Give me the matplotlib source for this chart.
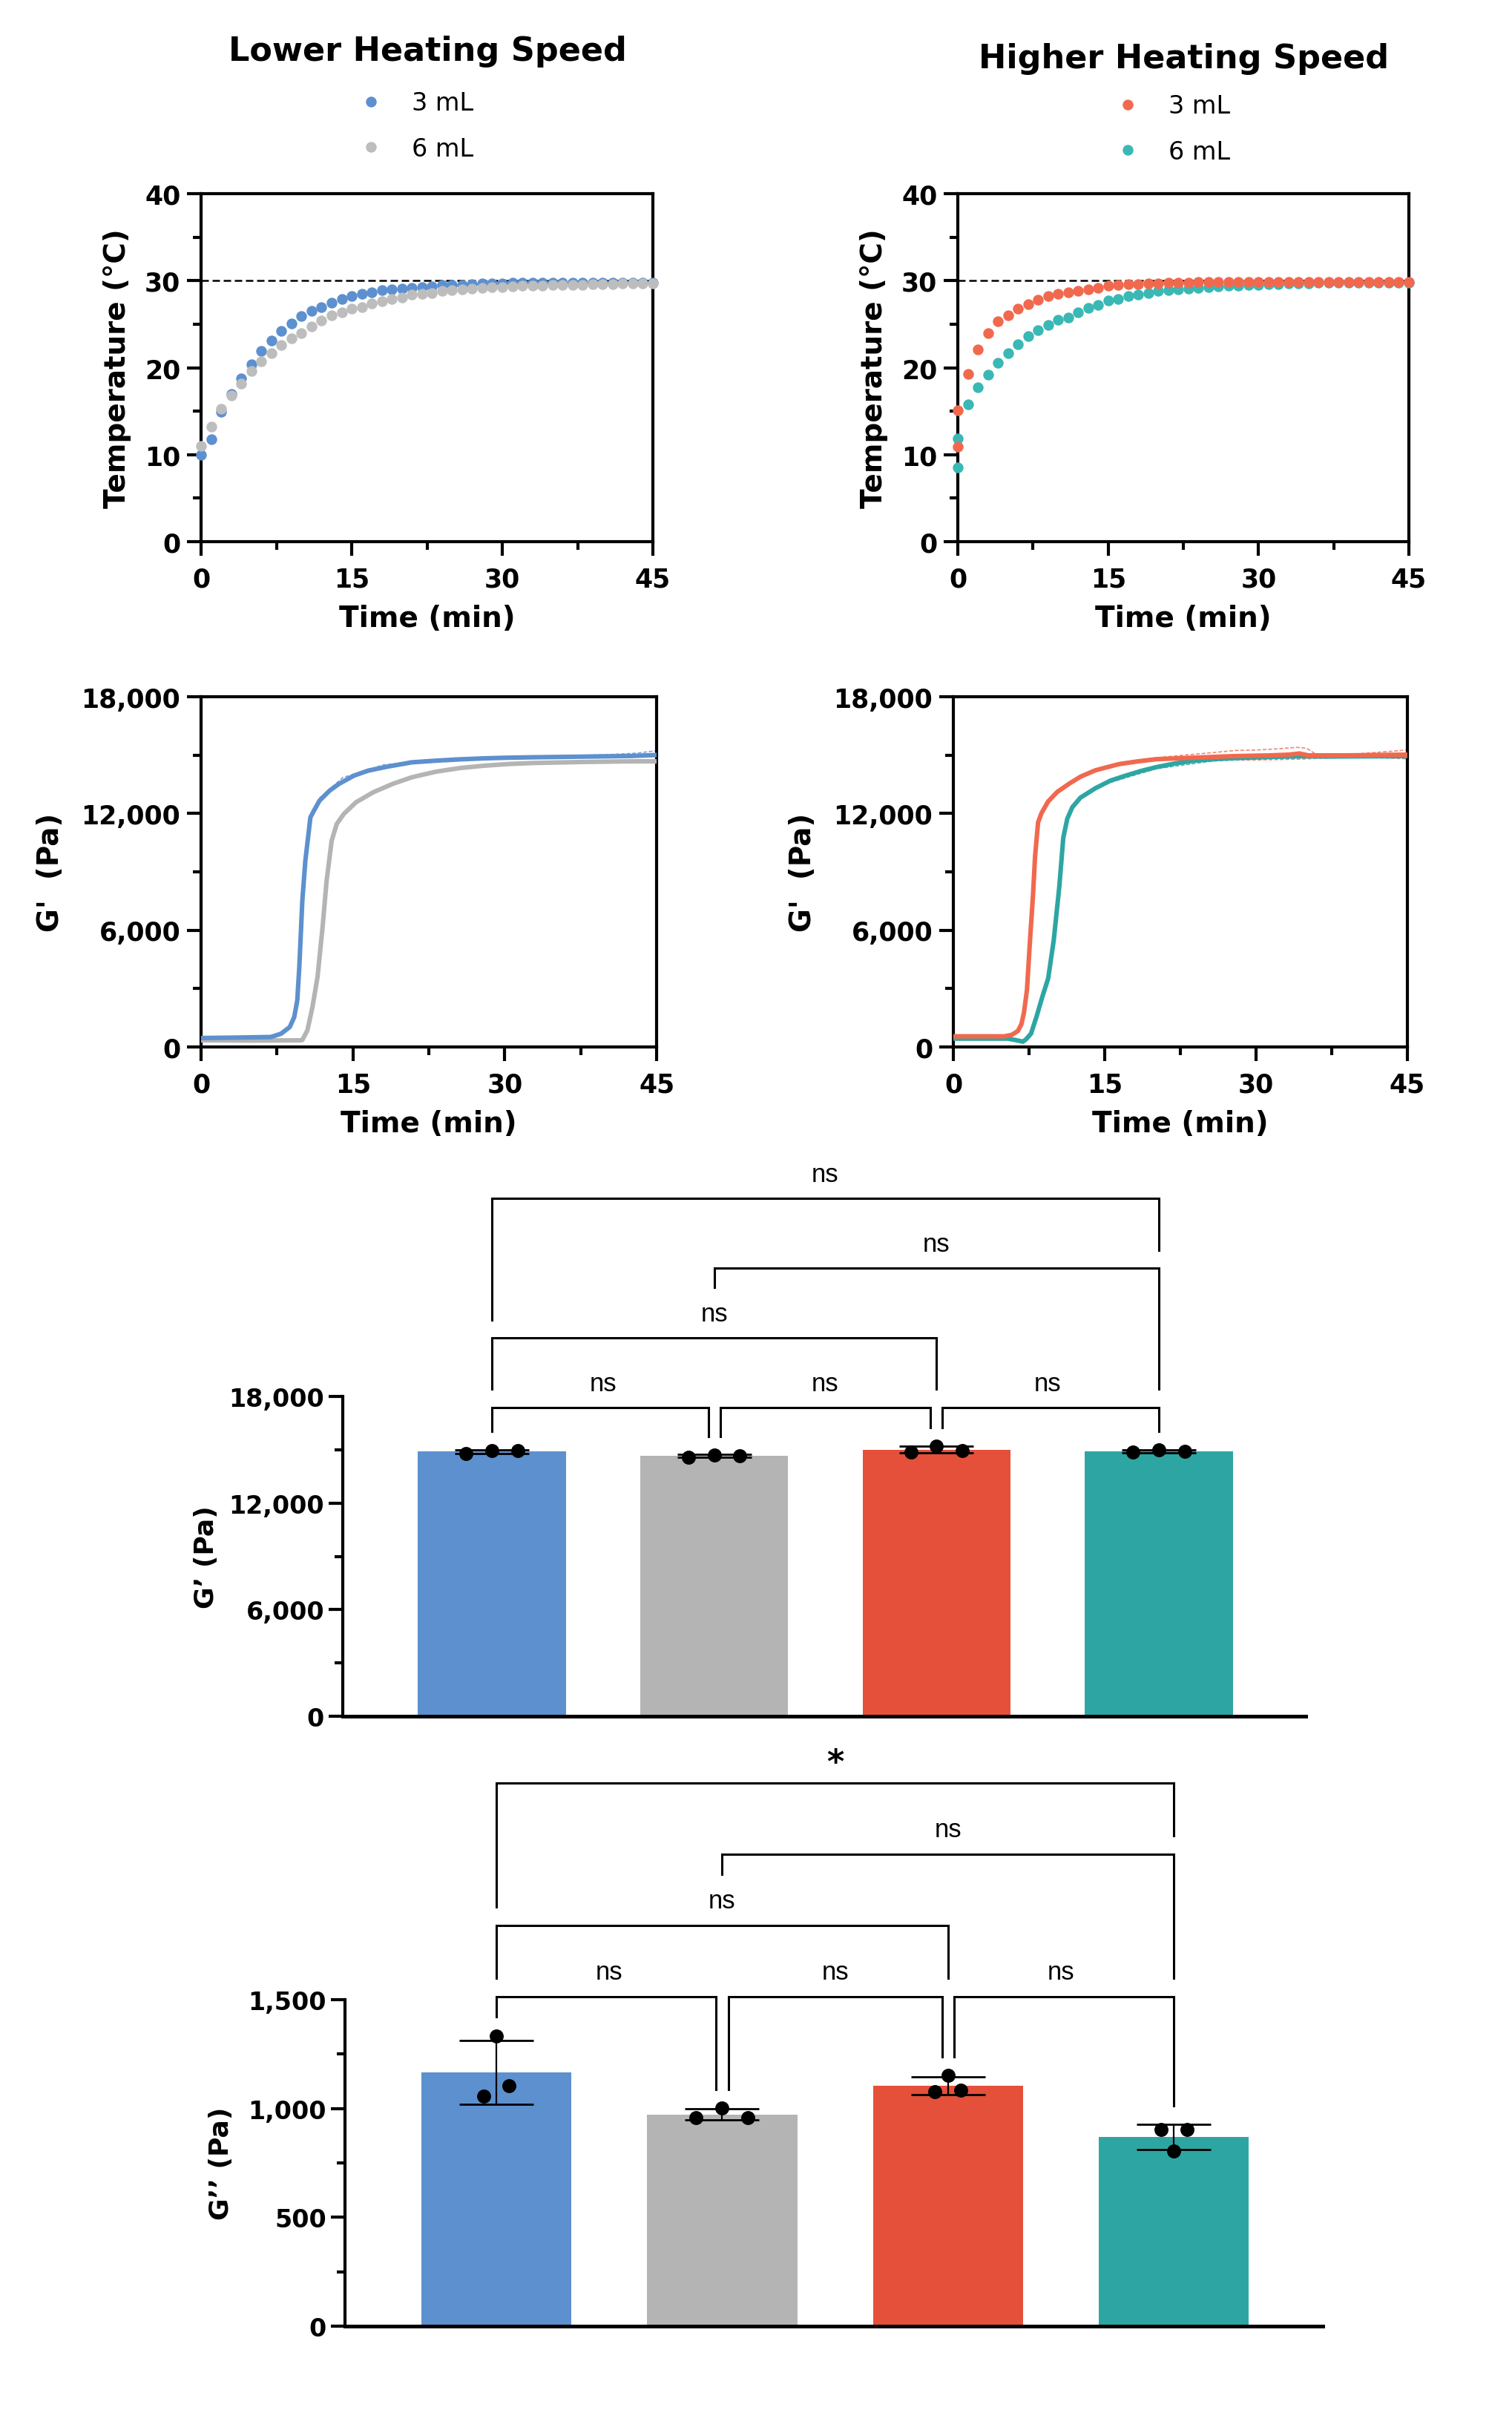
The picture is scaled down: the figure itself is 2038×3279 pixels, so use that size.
import numpy as np
import matplotlib
matplotlib.use("Agg")
import matplotlib.pyplot as plt
from matplotlib import font_manager
from matplotlib.ticker import MultipleLocator, FuncFormatter

# ---- temperature ramps (one reading per minute) ----
time_slow = list(range(46))
temp_slow_3ml = [9.95, 11.8, 14.9, 17.0, 18.8, 20.4, 21.9, 23.1, 24.2, 25.1, 25.9, 26.5, 27.0, 27.5,
                 27.9, 28.2, 28.5, 28.7, 28.9, 29.0, 29.1, 29.2, 29.3, 29.35, 29.5, 29.5, 29.55, 29.6,
                 29.65, 29.65, 29.7, 29.75, 29.75, 29.75, 29.75, 29.75, 29.8, 29.8, 29.8, 29.8, 29.8,
                 29.8, 29.8, 29.8, 29.8, 29.8]
temp_slow_6ml = [11.0, 13.2, 15.3, 16.8, 18.2, 19.6, 20.7, 21.7, 22.6, 23.4, 24.0, 24.7, 25.4, 26.0,
                 26.4, 26.8, 27.0, 27.4, 27.6, 27.9, 28.1, 28.4, 28.5, 28.6, 28.8, 28.9, 29.0, 29.1,
                 29.2, 29.25, 29.3, 29.35, 29.4, 29.45, 29.45, 29.5, 29.5, 29.55, 29.55, 29.6, 29.6,
                 29.6, 29.65, 29.65, 29.7, 29.7]
time_fast = [0] + list(range(46))
temp_fast_3ml = [10.9, 15.1, 19.25, 22.1, 24.0, 25.3, 26.05, 26.75, 27.3, 27.8, 28.2, 28.5, 28.7, 28.8,
                 29.0, 29.2, 29.4, 29.5, 29.6, 29.6, 29.7, 29.7, 29.75, 29.75, 29.8, 29.85, 29.85,
                 29.85, 29.85, 29.85, 29.85, 29.85, 29.85, 29.85, 29.85, 29.85, 29.85, 29.85, 29.85,
                 29.85, 29.85, 29.85, 29.85, 29.85, 29.85, 29.85, 29.85]
temp_fast_6ml = [8.5, 11.9, 15.75, 17.75, 19.2, 20.6, 21.7, 22.7, 23.6, 24.3, 24.9, 25.5, 25.8, 26.4,
                 26.9, 27.2, 27.7, 27.9, 28.2, 28.4, 28.6, 28.8, 28.9, 29.0, 29.1, 29.2, 29.3, 29.35,
                 29.4, 29.45, 29.5, 29.55, 29.6, 29.6, 29.65, 29.7, 29.7, 29.75, 29.75, 29.8, 29.8,
                 29.8, 29.8, 29.8, 29.8, 29.8, 29.8]
target_temp = 30

# ---- G' time sweeps ----
gs_slow3_t = [0, 3, 6.9, 7.9, 8.76, 9.2, 9.5, 9.7, 10.0, 10.3, 10.8, 11.15, 11.7, 12.7, 13.6, 15.1,
              16.5, 18.4, 20.8, 23.2, 25.6, 28.0, 30.4, 32.8, 37.6, 42.4, 45]
gs_slow3 = [462, 480, 513, 684, 1027, 1540, 2395, 4107, 7529, 9582, 11807, 12150, 12663, 13176,
            13518, 13946, 14203, 14408, 14630, 14716, 14784, 14836, 14870, 14890, 14922, 14955, 15007]
gs_slow3_hi_t = [11.7, 14, 18, 25, 35, 40, 43, 45]
gs_slow3_hi = [12800, 13850, 14500, 14850, 14950, 15024, 15100, 15230]

gs_slow6_t = [0, 5, 9.8, 10.0, 10.5, 11.0, 11.5, 12.0, 12.4, 12.9, 13.4, 14.1, 15.3, 17.0, 18.9,
              20.8, 23.2, 25.6, 28.0, 30.4, 32.8, 37.6, 42.4, 45]
gs_slow6 = [342, 330, 342, 360, 855, 2053, 3593, 6160, 8556, 10609, 11465, 11978, 12577, 13090,
            13518, 13860, 14151, 14339, 14459, 14545, 14596, 14647, 14682, 14682]

gs_fast3_t = [0, 5.05, 5.8, 6.4, 6.75, 7.0, 7.3, 7.6, 7.9, 8.1, 8.4, 8.75, 9.4, 10.3, 11.5, 12.6,
              14.1, 16.4, 18.2, 20.1, 22.0, 23.9, 27.7, 31.4, 33.3, 34.3, 35.2, 39.0, 45]
gs_fast3 = [548, 548, 626, 822, 1174, 1761, 2935, 5478, 7826, 9783, 11544, 12033, 12620, 13109,
            13539, 13891, 14224, 14537, 14674, 14791, 14830, 14870, 14948, 14987, 15026, 15085,
            14987, 14987, 15026]
gs_fast3_hi_t = [16.4, 20.1, 26, 28, 30, 32, 34, 35, 36, 40, 45]
gs_fast3_hi = [14576, 14870, 15144, 15242, 15261, 15320, 15398, 15359, 15026, 15065, 15261]
gs_fast3_lo_t = [16.4, 20.1, 26, 30, 34, 40, 45]
gs_fast3_lo = [14500, 14750, 14752, 14752, 14791, 14909, 14811]

gs_fast6_t = [0, 5.4, 6.2, 6.9, 7.2, 7.7, 8.25, 8.8, 9.4, 9.95, 10.5, 10.9, 11.3, 11.8, 12.6, 14.1,
              15.6, 17.1, 18.6, 20.1, 22.0, 23.9, 25.8, 27.7, 31.4, 34.4, 37.1, 45]
gs_fast6 = [430, 430, 352, 274, 391, 685, 1565, 2544, 3522, 5478, 8217, 10761, 11739, 12326, 12815,
            13304, 13696, 13950, 14185, 14381, 14576, 14713, 14791, 14850, 14909, 14948, 14930, 14948]
gs_fast6_lo_t = [15.6, 20.1, 25.8, 31.4, 37, 45]
gs_fast6_lo = [13600, 14300, 14700, 14820, 14880, 14900]

# ---- end-point replicates (left, centre, right) ----
groups = ["slow 3 mL", "slow 6 mL", "fast 3 mL", "fast 6 mL"]
gprime_reps = [[14786, 14957, 14957], [14571, 14721, 14657], [14850, 15214, 14957], [14850, 15000, 14893]]
gdouble_reps = [[1058, 1335, 1106], [958, 1004, 958], [1076, 1152, 1086], [904, 804, 904]]
comparisons = [(0, 1), (1, 2), (2, 3), (0, 2), (1, 3), (0, 3)]
gprime_sig = ["ns", "ns", "ns", "ns", "ns", "ns"]
gdouble_sig = ["ns", "ns", "ns", "ns", "ns", "*"]

BLUE = "#5D90CF"
GRAY = "#B4B4B4"
RED = "#E4503A"
TEAL = "#2DA6A3"
RED_PT = "#F0694F"
TEAL_PT = "#3AB8B5"
GRAY_PT = "#BDBDBD"


def have_font(name):
    try:
        font_manager.findfont(font_manager.FontProperties(family=name), fallback_to_default=False)
        return True
    except Exception:
        return False


if have_font("Liberation Sans Narrow"):
    NS_FONT, NS_SIZE = "Liberation Sans Narrow", 14
else:
    NS_FONT, NS_SIZE = "Liberation Sans", 12.5

plt.rcParams["font.family"] = ["DejaVu Sans"]
plt.rcParams["font.weight"] = "bold"
plt.rcParams["axes.labelweight"] = "bold"

LW = 1.5
comma = FuncFormatter(lambda v, p: f"{int(round(v)):,}")


def style_box(ax):
    for s in ax.spines.values():
        s.set_linewidth(LW)
    ax.tick_params(which="major", length=7, width=LW, labelsize=12.5, pad=5)
    ax.tick_params(axis="y", which="major", pad=3)
    ax.tick_params(which="minor", length=4, width=LW)
    ax.set_xlim(0, 45)
    ax.xaxis.set_major_locator(MultipleLocator(15))
    ax.xaxis.set_minor_locator(MultipleLocator(7.5))
    ax.set_xlabel("Time (min)", fontsize=14, labelpad=6)


def temp_panel(ax, series):
    for t, v, c, lab in series:
        ax.plot(t, v, "o", ms=5.2, color=c, mec="none", label=lab, clip_on=False, zorder=3)
    ax.axhline(target_temp, color="black", lw=0.9, ls=(0, (4, 2)), zorder=2)
    ax.set_ylim(0, 40)
    ax.yaxis.set_major_locator(MultipleLocator(10))
    ax.yaxis.set_minor_locator(MultipleLocator(5))
    style_box(ax)
    ax.set_ylabel("Temperature (°C)", fontsize=14)
    ax.yaxis.set_label_coords(-0.155, 0.5)


def gprime_panel(ax, curves, bands):
    for t, v, c in bands:
        ax.plot(t, v, color=c, lw=0.6, ls=(0, (3, 1.5)), alpha=0.8, zorder=2)
    for t, v, c in curves:
        ax.plot(t, v, color=c, lw=2.2, zorder=3, solid_capstyle="round")
    ax.set_ylim(0, 18000)
    ax.yaxis.set_major_locator(MultipleLocator(6000))
    ax.yaxis.set_minor_locator(MultipleLocator(3000))
    ax.yaxis.set_major_formatter(comma)
    style_box(ax)
    ax.set_ylabel("G'  (Pa)", fontsize=14)
    ax.yaxis.set_label_coords(-0.30, 0.5)


def bar_panel(ax, reps, ymax, step, jitter, ylabel, sig):
    reps = np.array(reps, dtype=float)
    means = reps.mean(axis=1)
    sds = reps.std(axis=1, ddof=1)
    x = np.arange(len(groups))
    ax.bar(x, means, width=0.665, color=[BLUE, GRAY, RED, TEAL], zorder=1)
    ax.errorbar(x, means, yerr=sds, fmt="none", ecolor="black", elinewidth=0.8,
                capsize=18, capthick=1.0, zorder=3, clip_on=False)
    offs = np.array([-1, 0, 1])
    for i in x:
        ax.plot(i + offs * jitter[i], reps[i], "o", ms=5.8, color="black", zorder=4, clip_on=False)
    ax.set_xlim(-0.67, 3.66)
    ax.set_ylim(0, ymax)
    ax.yaxis.set_major_locator(MultipleLocator(step))
    ax.yaxis.set_minor_locator(MultipleLocator(step / 2))
    ax.yaxis.set_major_formatter(comma)
    ax.set_xticks([])
    for s in ["top", "right"]:
        ax.spines[s].set_visible(False)
    ax.spines["left"].set_linewidth(LW)
    ax.spines["bottom"].set_linewidth(LW + 0.3)
    ax.tick_params(axis="y", which="major", length=7, width=LW, labelsize=12, pad=2)
    ax.tick_params(axis="y", which="minor", length=4, width=LW)
    ax.set_ylabel(ylabel, fontsize=13)

    tops = list(np.maximum(reps.max(axis=1), means + sds))
    gap, lvl_step, txt_off, txt_top = 0.057 * ymax, 0.218 * ymax, 0.075 * ymax, 0.10 * ymax
    base = max(tops) + 0.12 * ymax
    shift = 0.027
    # adjacent pairs sit on level 0, the wider ones are stacked above
    levels, nxt = [], 1
    for i, j in comparisons:
        if j - i == 1:
            levels.append(0)
        else:
            levels.append(nxt)
            nxt += 1
    adj = [c for c, l in zip(comparisons, levels) if l == 0]
    occ = list(tops)
    for lvl in sorted(set(levels)):
        snap = list(occ)
        for (i, j), lab, l in zip(comparisons, sig, levels):
            if l != lvl:
                continue
            y = base + lvl * lvl_step
            xi, xj = float(i), float(j)
            if lvl == 0:
                if any(c[1] == i for c in adj):
                    xi += shift
                if any(c[0] == j for c in adj):
                    xj -= shift
            ax.plot([xi, xi, xj, xj], [snap[i] + gap, y, y, snap[j] + gap], color="black",
                    lw=1.1, clip_on=False, solid_joinstyle="miter")
            if lab == "*":
                ax.text((i + j) / 2, y + txt_off * 0.85, lab, ha="center", va="center",
                        fontsize=16, fontweight="bold", clip_on=False)
            else:
                ax.text((i + j) / 2, y + txt_off, lab, ha="center", va="center",
                        fontsize=NS_SIZE, fontweight="normal", family=NS_FONT, clip_on=False)
            for k in range(i, j + 1):
                occ[k] = max(occ[k], y)
            mid = (i + j) / 2
            if mid == int(mid):
                occ[int(mid)] = max(occ[int(mid)], y + txt_top)


fig = plt.figure(figsize=(10.19, 16.4), dpi=200)

ax1 = fig.add_axes([0.1330, 0.7771, 0.2988, 0.1430])
temp_panel(ax1, [(time_slow, temp_slow_3ml, BLUE, "3 mL"), (time_slow, temp_slow_6ml, GRAY_PT, "6 mL")])
ax2 = fig.add_axes([0.6335, 0.7771, 0.2983, 0.1430])
temp_panel(ax2, [(time_fast, temp_fast_6ml, TEAL_PT, "6 mL"), (time_fast, temp_fast_3ml, RED_PT, "3 mL")])

fig.text(0.2826, 0.9787, "Lower Heating Speed", ha="center", va="center", fontsize=16, fontweight="bold")
fig.text(0.7831, 0.9759, "Higher Heating Speed", ha="center", va="center", fontsize=16, fontweight="bold")

leg_kw = dict(frameon=False, loc="center left", bbox_transform=fig.transFigure, handlelength=1.0,
              handletextpad=1.14, labelspacing=0.85, prop={"weight": "normal", "size": 12},
              markerscale=1.0)
h, l = ax1.get_legend_handles_labels()
ax1.legend(h, l, bbox_to_anchor=(0.2225, 0.9480), **leg_kw)
h, l = ax2.get_legend_handles_labels()
ax2.legend(h[::-1], l[::-1], bbox_to_anchor=(0.7230, 0.9468), **leg_kw)

ax3 = fig.add_axes([0.1330, 0.5695, 0.3013, 0.1439])
gprime_panel(ax3, [(gs_slow6_t, gs_slow6, GRAY), (gs_slow3_t, gs_slow3, BLUE)],
             [(gs_slow3_hi_t, gs_slow3_hi, BLUE)])
ax4 = fig.add_axes([0.6305, 0.5695, 0.3003, 0.1439])
gprime_panel(ax4, [(gs_fast6_t, gs_fast6, TEAL), (gs_fast3_t, gs_fast3, RED_PT)],
             [(gs_fast3_hi_t, gs_fast3_hi, RED_PT), (gs_fast3_lo_t, gs_fast3_lo, RED_PT),
              (gs_fast6_lo_t, gs_fast6_lo, TEAL)])

ax5 = fig.add_axes([0.2267, 0.2945, 0.6369, 0.1314])
bar_panel(ax5, gprime_reps, 18000, 6000, [0.116] * 4, "G’ (Pa)", gprime_sig)
ax5.yaxis.set_label_coords(-0.129, 0.5)
ax6 = fig.add_axes([0.2282, 0.0439, 0.6467, 0.1341])
bar_panel(ax6, gdouble_reps, 1500, 500, [0.057, 0.115, 0.057, 0.057], "G’’ (Pa)", gdouble_sig)
ax6.yaxis.set_label_coords(-0.114, 0.5)

fig.savefig("out.png", dpi=200, facecolor="white")
